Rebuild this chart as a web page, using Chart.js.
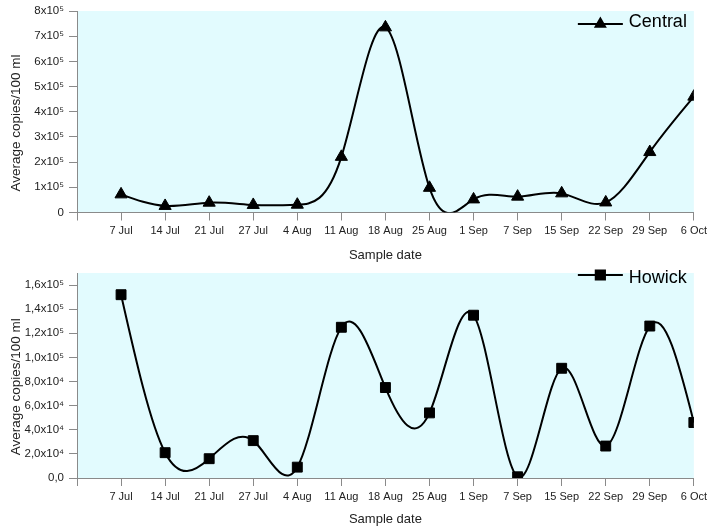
<!DOCTYPE html>
<html>
<head>
<meta charset="utf-8">
<script src="https://cdn.jsdelivr.net/npm/chart.js@4.4.0/dist/chart.umd.min.js"></script>
<style>
  html, body { margin:0; padding:0; background:#fff; }
  #wrap { position:relative; width:711px; height:529px; }
  .box { position:absolute; left:0; width:711px; }
  #boxTop { top:0; height:265px; }
  #boxBot { top:265px; height:264px; }
</style>
</head>
<body>
<div id="wrap">
  <div class="box" id="boxTop"><canvas id="centralChart"></canvas></div>
  <div class="box" id="boxBot"><canvas id="howickChart"></canvas></div>
</div>
<script>
/* 두 지점 평균 copies/100 ml — 값은 그림에서 읽음 */

const dates   = ['7 Jul','14 Jul','21 Jul','27 Jul','4 Aug','11 Aug','18 Aug','25 Aug','1 Sep','7 Sep','15 Sep','22 Sep','29 Sep','6 Oct'];
const central = [72000, 26000, 39000, 30000, 31000, 221000, 735000, 98000, 52000, 63000, 76000, 40000, 240000, 460000];
const howick  = [152000, 21000, 16000, 31000, 9000, 125000, 75000, 54000, 135000, 1000, 91000, 26500, 126000, 46000];

const centralTicks      = [0, 100000, 200000, 300000, 400000, 500000, 600000, 700000, 800000];
const centralTickLabels = ['0','1x10⁵','2x10⁵','3x10⁵','4x10⁵','5x10⁵','6x10⁵','7x10⁵','8x10⁵'];
const howickTicks       = [0, 20000, 40000, 60000, 80000, 100000, 120000, 140000, 160000];
const howickTickLabels  = ['0,0','2,0x10⁴','4,0x10⁴','6,0x10⁴','8,0x10⁴','1,0x10⁵','1,2x10⁵','1,4x10⁵','1,6x10⁵'];

const FONT = '"Liberation Sans", Arial, sans-serif';
const AXIS_GRAY = '#8a8a8a';
const PLOT_BG = '#e2fbfe';

const bgPlugin = {
  id: 'plotBg',
  beforeDraw(chart){
    const a = chart.chartArea, ctx = chart.ctx;
    ctx.save();
    ctx.fillStyle = PLOT_BG;
    ctx.fillRect(a.left, a.top, a.right - a.left, a.bottom - a.top);
    ctx.restore();
  }
};

// natural cubic spline 제어점 (원본 그래프처럼 오버슈트)
const naturalSpline = {
  id: 'naturalSpline',
  beforeDatasetDraw(chart, args){
    const line = args.meta.dataset;
    const pts = args.meta.data;
    const n = pts.length;
    if (!line || n < 3) return;
    const h = (pts[n-1].x - pts[0].x) / (n - 1);
    const y = pts.map(p => p.y);
    // M'' 풀기 (tridiagonal, M0 = Mn = 0)
    const M = new Array(n).fill(0);
    const a = [], b = [], c = [], d = [];
    for (let i = 1; i < n - 1; i++){
      a.push(1); b.push(4); c.push(1);
      d.push(6 * (y[i+1] - 2*y[i] + y[i-1]) / (h*h));
    }
    const m = b.length;
    for (let i = 1; i < m; i++){
      const w = a[i] / b[i-1];
      b[i] -= w * c[i-1];
      d[i] -= w * d[i-1];
    }
    const sol = new Array(m);
    sol[m-1] = d[m-1] / b[m-1];
    for (let i = m - 2; i >= 0; i--) sol[i] = (d[i] - c[i] * sol[i+1]) / b[i];
    for (let i = 0; i < m; i++) M[i+1] = sol[i];
    const slope = y.map((_, i) => i < n - 1
      ? (y[i+1] - y[i]) / h - h * (2*M[i] + M[i+1]) / 6
      : (y[i] - y[i-1]) / h + h * (M[i-1] + 2*M[i]) / 6);
    pts.forEach((p, i) => {
      p.cp1x = p.x - h/3; p.cp1y = p.y - slope[i] * h/3;
      p.cp2x = p.x + h/3; p.cp2y = p.y + slope[i] * h/3;
    });
    line._pointsUpdated = true;
  }
};

// 선+마커 범례 (플롯 안 오른쪽 위)
const lineLegend = {
  id: 'lineLegend',
  afterDraw(chart, args, opts){
    const ds = chart.data.datasets[0];
    const a = chart.chartArea, ctx = chart.ctx;
    const y = a.top + opts.lineDy;
    const x0 = a.right - 116, x1 = a.right - 71;
    ctx.save();
    ctx.strokeStyle = '#000';
    ctx.lineWidth = 2;
    ctx.beginPath(); ctx.moveTo(x0, y); ctx.lineTo(x1, y); ctx.stroke();
    ctx.fillStyle = '#000';
    Chart.helpers.drawPoint(ctx, { pointStyle: ds.pointStyle, radius: opts.markerR, rotation: 0, borderWidth: 1 }, (x0 + x1) / 2, y);
    ctx.font = '18px ' + FONT;
    ctx.textBaseline = 'middle';
    ctx.textAlign = 'left';
    ctx.fillText(ds.label, a.right - 65, a.top + opts.textDy);
    ctx.restore();
  }
};

function makeChart(id, label, values, pointStyle, pointRadius, yMax, tickVals, tickLabels, padTop, xHeight, legendPos){
  const ctx = document.getElementById(id).getContext('2d');
  return new Chart(ctx, {
    type: 'line',
    data: {
      datasets: [{
        label,
        data: values.map((v, i) => ({ x: i, y: v })),
        borderColor: '#000',
        borderWidth: 2,
        backgroundColor: '#000',
        pointStyle,
        pointRadius,
        pointBackgroundColor: '#000',
        pointBorderColor: '#000',
        pointBorderWidth: 1,
        tension: 0.4,
        fill: false
      }]
    },
    options: {
      responsive: true,
      maintainAspectRatio: false,
      animation: false,
      layout: { padding: { top: padTop, right: 17, left: 0, bottom: 0 } },
      plugins: {
        legend: { display: false },
        tooltip: { enabled: false },
        lineLegend: legendPos
      },
      scales: {
        x: {
          type: 'linear',
          min: -1,
          max: dates.length - 1,
          afterBuildTicks: s => { s.ticks = [-1, ...dates.map((_, i) => i)].map(v => ({ value: v })); },
          afterFit: s => { s.height = xHeight; },
          grid: { drawOnChartArea: false, drawTicks: true, tickLength: 8, color: AXIS_GRAY },
          border: { color: AXIS_GRAY, width: 1 },
          ticks: {
            autoSkip: false, maxRotation: 0, padding: 4,
            color: '#222', font: { family: FONT, size: 11 },
            callback: v => dates[v] ?? ''
          },
          title: { display: true, text: 'Sample date', color: '#222', font: { family: FONT, size: 13 }, padding: { top: 4, bottom: 2 } }
        },
        y: {
          min: 0,
          max: yMax,
          afterBuildTicks: s => { s.ticks = tickVals.map(v => ({ value: v })); },
          afterFit: s => { s.width = 77; s.paddingTop = 0; s.paddingBottom = 0; },
          grid: { drawOnChartArea: false, drawTicks: true, tickLength: 8, color: AXIS_GRAY },
          border: { color: AXIS_GRAY, width: 1 },
          ticks: {
            padding: 5, color: '#222', font: { family: FONT, size: 11.5 },
            callback: v => tickLabels[tickVals.indexOf(v)] ?? ''
          },
          // 뒤 공백: 원본처럼 제목을 살짝 아래로
          title: { display: true, text: 'Average copies/100 ml      ', color: '#222', font: { family: FONT, size: 13.5 }, padding: { top: 8, bottom: 0 } }
        }
      }
    },
    plugins: [bgPlugin, naturalSpline, lineLegend]
  });
}

makeChart('centralChart', 'Central', central, 'triangle', 7, 800000,
  centralTicks, centralTickLabels, 11, 52.5, { lineDy: 13, textDy: 11.5, markerR: 5.5 });
makeChart('howickChart', 'Howick', howick, 'rect', 7, 170000,
  howickTicks, howickTickLabels, 8, 51, { lineDy: 2, textDy: 5, markerR: 6.5 });
</script>
</body>
</html>
